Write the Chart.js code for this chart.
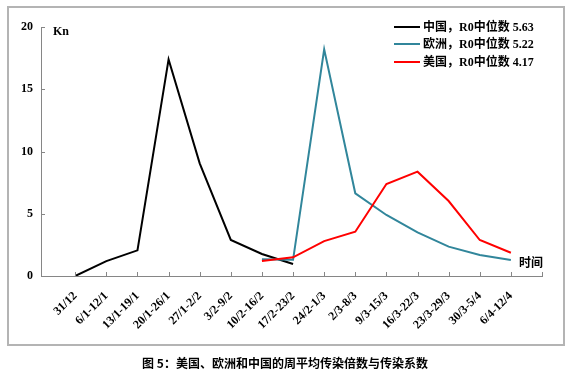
<!DOCTYPE html>
<html>
<head>
<meta charset="utf-8">
<script src="https://cdn.jsdelivr.net/npm/chart.js@4"></script>
<style>
  body { margin: 0; width: 570px; height: 375px; background: #fff; overflow: hidden; position: relative; }
  #chart { position: absolute; left: 0; top: 0; }
  #frame { position: absolute; left: 7px; top: 6px; width: 554px; height: 336px; border: 2px solid #b4b4b4; box-sizing: content-box; pointer-events: none; }
  .lbl { position: absolute; font-weight: bold; font-size: 12px; line-height: 14px; color: #000; white-space: nowrap; }
  .serif { font-family: "Liberation Serif", "Noto Sans CJK SC", serif; }
  .cjk { font-family: "Noto Sans CJK SC", sans-serif; }
  #legend { position: absolute; left: 394px; top: 18px; }
  #legend div { height: 17.5px; display: flex; align-items: center; }
  #legend i { display: inline-block; width: 26px; height: 2px; margin-right: 3px; }
  #caption { position: absolute; left: 0; top: 355px; width: 570px; text-align: center; font-family: "Noto Sans CJK SC", sans-serif; font-weight: bold; font-size: 12px; line-height: 16px; }
</style>
</head>
<body>
<canvas id="chart" width="570" height="375"></canvas>
<div id="frame"></div>
<div id="legend" class="lbl serif"></div>
<div class="lbl serif" style="left:53px;top:24px">Kn</div>
<div class="lbl cjk" style="left:519px;top:255px">时间</div>
<div id="caption">图 5：美国、欧洲和中国的周平均传染倍数与传染系数</div>
<script>
// 周（横轴类别）
const weeks = ["31/12", "6/1-12/1", "13/1-19/1", "20/1-26/1", "27/1-2/2", "3/2-9/2", "10/2-16/2",
  "17/2-23/2", "24/2-1/3", "2/3-8/3", "9/3-15/3", "16/3-22/3", "23/3-29/3", "30/3-5/4", "6/4-12/4"];

// 每周平均传染倍数 Kn
const china = [0, 1.2, 2.06, 17.4, 9.05, 2.9, 1.77, 0.96, null, null, null, null, null, null, null];
const europe = [null, null, null, null, null, null, 1.35, 1.3, 18.2, 6.64, 4.9, 3.5, 2.36, 1.69, 1.29];
const usa = [null, null, null, null, null, null, 1.2, 1.5, 2.8, 3.56, 7.39, 8.38, 6.02, 2.89, 1.87];

const seriesNames = ["中国，R0中位数 5.63", "欧洲，R0中位数 5.22", "美国，R0中位数 4.17"];
const seriesColors = ["#000000", "#31869b", "#ff0000"];
const yTicks = [0, 5, 10, 15, 20];

// 图例
const legend = document.getElementById("legend");
seriesNames.forEach((name, i) => {
  const row = document.createElement("div");
  row.innerHTML = '<i style="background:' + seriesColors[i] + '"></i>' + name;
  legend.appendChild(row);
});

const toPoints = arr => arr.map((v, i) => ({ x: i + 1, y: v }));

// 刻度线朝内画
const innerTicks = {
  id: "innerTicks",
  afterDraw(chart) {
    const { ctx, chartArea, scales } = chart;
    ctx.save();
    ctx.strokeStyle = "#868686";
    ctx.lineWidth = 1;
    ctx.beginPath();
    scales.x.ticks.forEach(t => {
      const px = Math.round(scales.x.getPixelForValue(t.value)) + 0.5;
      ctx.moveTo(px, chartArea.bottom);
      ctx.lineTo(px, chartArea.bottom - 4);
    });
    scales.y.ticks.forEach(t => {
      const py = Math.round(scales.y.getPixelForValue(t.value)) + 0.5;
      ctx.moveTo(chartArea.left, py);
      ctx.lineTo(chartArea.left + 4, py);
    });
    ctx.stroke();
    ctx.restore();
  }
};

const tickFont = { family: "'Liberation Serif', serif", size: 12, weight: "bold" };

new Chart(document.getElementById("chart"), {
  type: "line",
  data: {
    datasets: [
      { label: seriesNames[2], data: toPoints(usa), borderColor: seriesColors[2], order: 0 },
      { label: seriesNames[1], data: toPoints(europe), borderColor: seriesColors[1], order: 1 },
      { label: seriesNames[0], data: toPoints(china), borderColor: seriesColors[0], order: 2 }
    ]
  },
  options: {
    responsive: false,
    animation: false,
    layout: { padding: { top: 27, right: 28, left: 0, bottom: 0 } },
    elements: {
      line: { borderWidth: 2, tension: 0, borderJoinStyle: "miter" },
      point: { radius: 0 }
    },
    plugins: { legend: { display: false }, tooltip: { enabled: false } },
    scales: {
      x: {
        type: "linear",
        min: -0.1,
        max: weeks.length + 1,
        grid: { display: false, drawTicks: false },
        border: { color: "#868686", width: 1 },
        afterBuildTicks: s => { s.ticks = weeks.concat([""]).map((w, i) => ({ value: i + 1 })); },
        afterFit: s => { s.height = 99; },
        ticks: {
          autoSkip: false,
          minRotation: 45,
          maxRotation: 45,
          padding: 13,
          color: "#000",
          font: tickFont,
          callback: v => weeks[v - 1] || ""
        }
      },
      y: {
        min: 0,
        max: 20,
        grid: { display: false, drawTicks: false },
        border: { color: "#868686", width: 1 },
        afterBuildTicks: s => { s.ticks = yTicks.map(v => ({ value: v })); },
        afterFit: s => { s.width = 41; },
        ticks: { padding: 8, color: "#000", font: tickFont }
      }
    }
  },
  plugins: [innerTicks]
});
</script>
</body>
</html>
